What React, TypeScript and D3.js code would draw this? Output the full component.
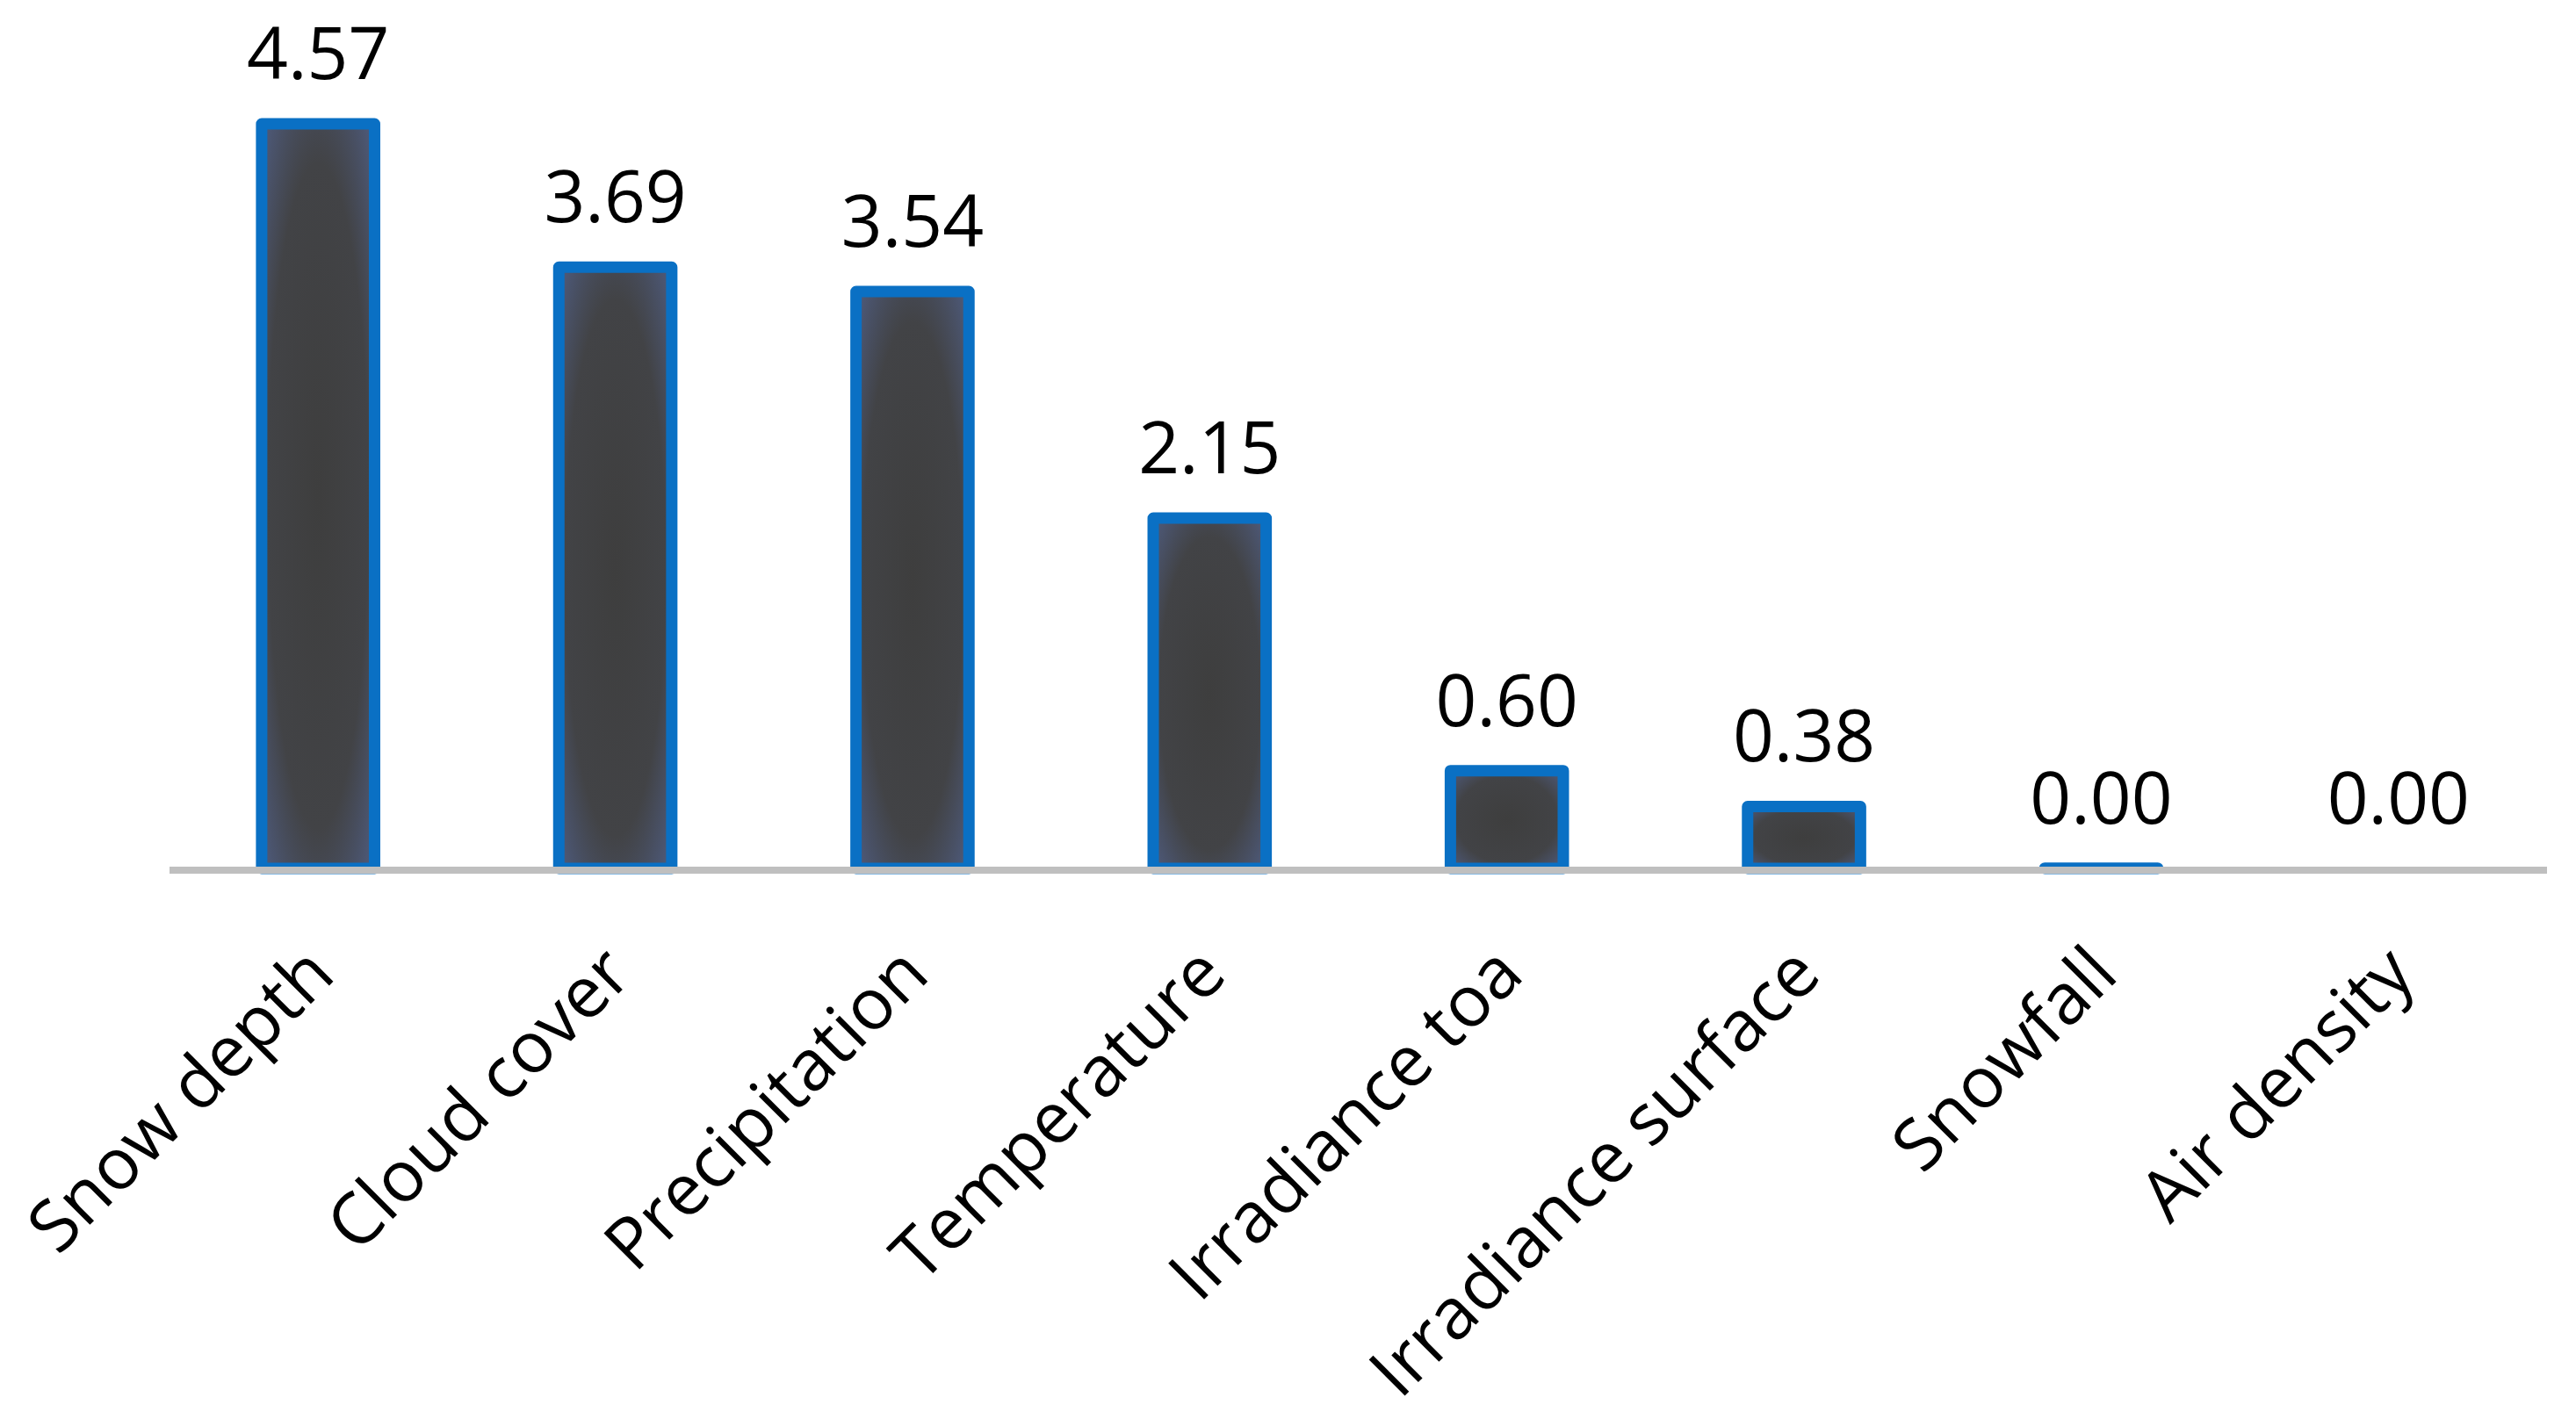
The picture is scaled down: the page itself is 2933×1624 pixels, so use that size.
import React from "react";
import * as d3 from "d3";

const categories = [
  "Snow depth",
  "Cloud cover",
  "Precipitation",
  "Temperature",
  "Irradiance toa",
  "Irradiance surface",
  "Snowfall",
  "Air density",
];
const values = [4.57, 3.69, 3.54, 2.15, 0.6, 0.38, 0.002, 0];

const W = 2933;
const H = 1624;

export default function App() {
  const x = d3
    .scaleBand<string>()
    .domain(categories)
    .range([193, 2900])
    .paddingInner(0.62)
    .paddingOuter(0.31);
  const y = d3.scaleLinear().domain([0, 4.57]).range([989, 141]);
  const fmt = d3.format(".2f");
  const font = "'Open Sans', 'DejaVu Sans', sans-serif";

  return (
    <svg
      width={W}
      height={H}
      style={{ position: "absolute", left: 0, top: 0, background: "#fff" }}
    >
      <defs>
        <radialGradient id="barFill" cx="0.5" cy="0.5" r="0.72">
          <stop offset="0%" stopColor="#3e3e3e" />
          <stop offset="62%" stopColor="#424346" />
          <stop offset="100%" stopColor="#4f5d82" />
        </radialGradient>
      </defs>
      <rect x={0} y={0} width={W} height={H} fill="#fff" />
      {categories.map((c, i) => {
        const v = values[i];
        if (v <= 0) return null;
        const bx = x(c)!;
        const bw = x.bandwidth();
        const top = y(v);
        const h = Math.max(0, y(0) - top);
        return (
          <rect
            key={c}
            x={bx}
            y={top}
            width={bw}
            height={h}
            fill="url(#barFill)"
            stroke="#0a70c4"
            strokeWidth={13}
            strokeLinejoin="round"
          />
        );
      })}
      <line
        x1={193}
        x2={2900}
        y1={991}
        y2={991}
        stroke="#bfbfbf"
        strokeWidth={8}
      />
      {categories.map((c, i) => {
        const cx = x(c)! + x.bandwidth() / 2;
        return (
          <text
            key={"v" + c}
            x={cx}
            y={y(values[i]) - 51}
            textAnchor="middle"
            fontFamily={font}
            fontSize={82}
            fill="#000"
          >
            {fmt(values[i])}
          </text>
        );
      })}
      {categories.map((c) => {
        const cx = x(c)! + x.bandwidth() / 2;
        return (
          <text
            key={"c" + c}
            transform={`translate(${cx + 22},${1113}) rotate(-45)`}
            textAnchor="end"
            fontFamily={font}
            fontSize={81}
            fill="#000"
          >
            {c}
          </text>
        );
      })}
    </svg>
  );
}
